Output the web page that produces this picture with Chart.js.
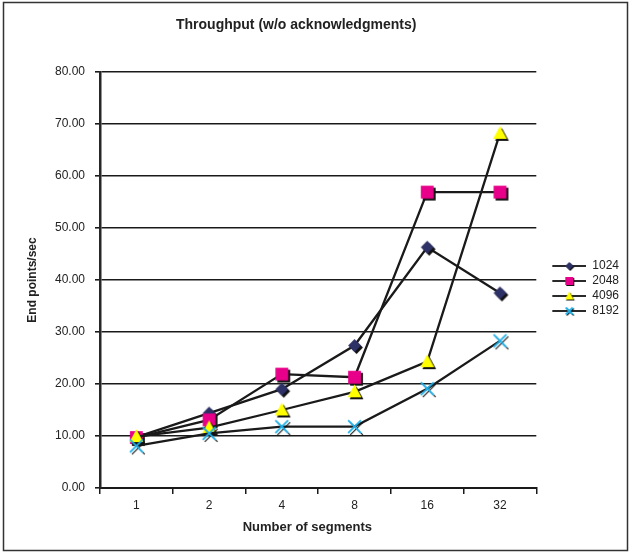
<!DOCTYPE html>
<html>
<head>
<meta charset="utf-8">
<title>Throughput (w/o acknowledgments)</title>
<script src="https://cdn.jsdelivr.net/npm/chart.js@4.4.1/dist/chart.umd.min.js"></script>
<style>
  html, body { margin: 0; padding: 0; background: #ffffff; }
  #wrap { width: 631px; height: 554px; }
</style>
</head>
<body>
<div id="wrap"><canvas id="chart" width="631" height="554"></canvas></div>
<script>
// Number of segments on the x axis
const categories = ['1', '2', '4', '8', '16', '32'];

// End points per second for each segment size
const series1024 = [9.8, 14.4, 19.0, 27.4, 46.3, 37.5];
const series2048 = [9.7, 13.1, 21.9, 21.3, 56.9, 56.9];
const series4096 = [9.9, 11.6, 15.0, 18.5, 24.3, 68.2];
const series8192 = [8.1, 10.5, 11.8, 11.8, 19.1, 28.3];

const seriesNames = ['1024', '2048', '4096', '8192'];
const yTickMin = 0;
const yTickMax = 80;
const yTickStep = 10;

const FONT = '"Liberation Sans", Arial, Helvetica, sans-serif';
const TEXT = '#222222';
const LINE = '#1a1a1a';
const NBSP = '\u00a0';

// ---- marker glyphs (with a small dark drop shadow) ----
function shapePath(ctx, kind, cx, cy, s) {
  ctx.beginPath();
  if (kind === 'diamond') {
    ctx.moveTo(cx, cy - s); ctx.lineTo(cx + s, cy); ctx.lineTo(cx, cy + s); ctx.lineTo(cx - s, cy);
    ctx.closePath();
  } else if (kind === 'square') {
    ctx.rect(cx - s, cy - s, 2 * s, 2 * s);
  } else if (kind === 'triangle') {
    ctx.moveTo(cx, cy - s * 1.15); ctx.lineTo(cx + s * 1.08, cy + s * 0.85); ctx.lineTo(cx - s * 1.08, cy + s * 0.85);
    ctx.closePath();
  } else if (kind === 'cross') {
    ctx.moveTo(cx - s, cy - s); ctx.lineTo(cx + s, cy + s);
    ctx.moveTo(cx + s, cy - s); ctx.lineTo(cx - s, cy + s);
  }
}

function paintMarker(ctx, kind, color, cx, cy, s, sh) {
  if (kind === 'cross') {
    ctx.lineCap = 'butt';
    ctx.strokeStyle = '#111111';
    ctx.lineWidth = 1.1;
    shapePath(ctx, kind, cx + sh, cy + sh, s);
    ctx.stroke();
    ctx.strokeStyle = color;
    ctx.lineWidth = 1.8;
    shapePath(ctx, kind, cx, cy, s);
    ctx.stroke();
  } else {
    ctx.fillStyle = '#111111';
    shapePath(ctx, kind, cx + sh, cy + sh, s);
    ctx.fill();
    ctx.fillStyle = color;
    shapePath(ctx, kind, cx, cy, s);
    ctx.fill();
  }
}

function markerCanvas(kind, color, s) {
  const size = Math.ceil(2 * s + 10);
  const c = document.createElement('canvas');
  c.width = size; c.height = size;
  const ctx = c.getContext('2d');
  paintMarker(ctx, kind, color, size / 2, size / 2, s, 2);
  return c;
}

function legendCanvas(kind, color, s) {
  const w = 47, h = 14, lineStart = 13;
  const c = document.createElement('canvas');
  c.width = w; c.height = h;
  const ctx = c.getContext('2d');
  ctx.strokeStyle = '#2a2a2a';
  ctx.lineWidth = 2;
  ctx.beginPath();
  ctx.moveTo(lineStart, h / 2); ctx.lineTo(w, h / 2);
  ctx.stroke();
  paintMarker(ctx, kind, color, (lineStart + w) / 2, h / 2, s, 1);
  return c;
}

const styles = [
  { kind: 'diamond',  color: '#2e3166', size: 6.4, legendSize: 4 },
  { kind: 'square',   color: '#e8008a', size: 6.4, legendSize: 4 },
  { kind: 'triangle', color: '#ffff00', size: 6.4, legendSize: 4 },
  { kind: 'cross',    color: '#1fb0ea', size: 6.4, legendSize: 3.5 }
];
const seriesValues = [series1024, series2048, series4096, series8192];

const pointIcons = styles.map(st => markerCanvas(st.kind, st.color, st.size));
const legendIcons = styles.map(st => legendCanvas(st.kind, st.color, st.legendSize));

const datasets = seriesNames.map((name, i) => ({
  label: name,
  data: seriesValues[i],
  borderColor: LINE,
  backgroundColor: styles[i].color,
  borderWidth: 2.3,
  tension: 0,
  fill: false,
  pointStyle: pointIcons[i],
  pointRadius: 6,
  pointHoverRadius: 6,
  order: seriesNames.length - i   // later series sit on top
}));

// white page with a thin frame around the chart
const framePlugin = {
  id: 'frame',
  beforeDraw(chart) {
    const ctx = chart.ctx;
    ctx.save();
    ctx.fillStyle = '#ffffff';
    ctx.fillRect(0, 0, chart.width, chart.height);
    ctx.strokeStyle = '#333333';
    ctx.lineWidth = 1.5;
    ctx.strokeRect(3.5, 2.5, chart.width - 7, chart.height - 6);
    ctx.restore();
  }
};

new Chart(document.getElementById('chart'), {
  type: 'line',
  data: { labels: categories, datasets },
  plugins: [framePlugin],
  options: {
    responsive: false,
    animation: false,
    devicePixelRatio: 1,
    layout: { padding: { left: 10, top: 5, right: 2, bottom: 6 } },
    plugins: {
      title: {
        display: true,
        // trailing no-break spaces nudge the centred title a little to the left
        text: 'Throughput (w/o acknowledgments)' + NBSP.repeat(12),
        color: TEXT,
        font: { family: FONT, size: 14, weight: 'bold' },
        padding: { top: 12, bottom: 38.2 }
      },
      legend: {
        display: true,
        position: 'right',
        fullSize: false,
        title: {
          display: true,
          text: ' ',
          font: { size: 10, lineHeight: 1 },
          padding: { top: 0, bottom: 7 }
        },
        labels: {
          usePointStyle: true,
          pointStyleWidth: 47,
          padding: 3,
          color: TEXT,
          font: { family: FONT, size: 12 },
          sort: (a, b) => a.datasetIndex - b.datasetIndex,
          generateLabels(chart) {
            return chart.data.datasets.map((ds, i) => ({
              text: ds.label,
              pointStyle: legendIcons[i],
              datasetIndex: i,
              fillStyle: 'rgba(0,0,0,0)',
              strokeStyle: 'rgba(0,0,0,0)',
              lineWidth: 0,
              hidden: false,
              fontColor: TEXT
            }));
          }
        }
      },
      tooltip: { enabled: false }
    },
    scales: {
      x: {
        type: 'category',
        offset: true,
        grid: {
          display: true,
          drawOnChartArea: false,
          offset: true,
          color: LINE,
          lineWidth: 1.5,
          tickLength: 6
        },
        border: { display: true, color: LINE, width: 2 },
        ticks: {
          color: TEXT,
          padding: 4,
          font: { family: FONT, size: 12 },
          maxRotation: 0
        },
        title: {
          display: true,
          text: 'Number of segments' + NBSP.repeat(6),
          color: TEXT,
          font: { family: FONT, size: 13, weight: 'bold' },
          padding: { top: 0, bottom: 13 }
        },
        afterFit(scale) { scale.height = 60; }
      },
      y: {
        min: yTickMin,
        max: yTickMax,
        grid: {
          color: LINE,
          lineWidth: 1.6,
          tickLength: 5
        },
        border: { display: true, color: '#262626', width: 2.5 },
        ticks: {
          stepSize: yTickStep,
          color: TEXT,
          padding: 10,
          font: { family: FONT, size: 12 },
          callback: v => Number(v).toFixed(2)
        },
        title: {
          display: true,
          text: 'End points/sec',
          color: TEXT,
          font: { family: FONT, size: 12, weight: 'bold' },
          padding: { top: 15, bottom: 0 }
        },
        afterFit(scale) { scale.width = 90; }
      }
    }
  }
});
</script>
</body>
</html>
